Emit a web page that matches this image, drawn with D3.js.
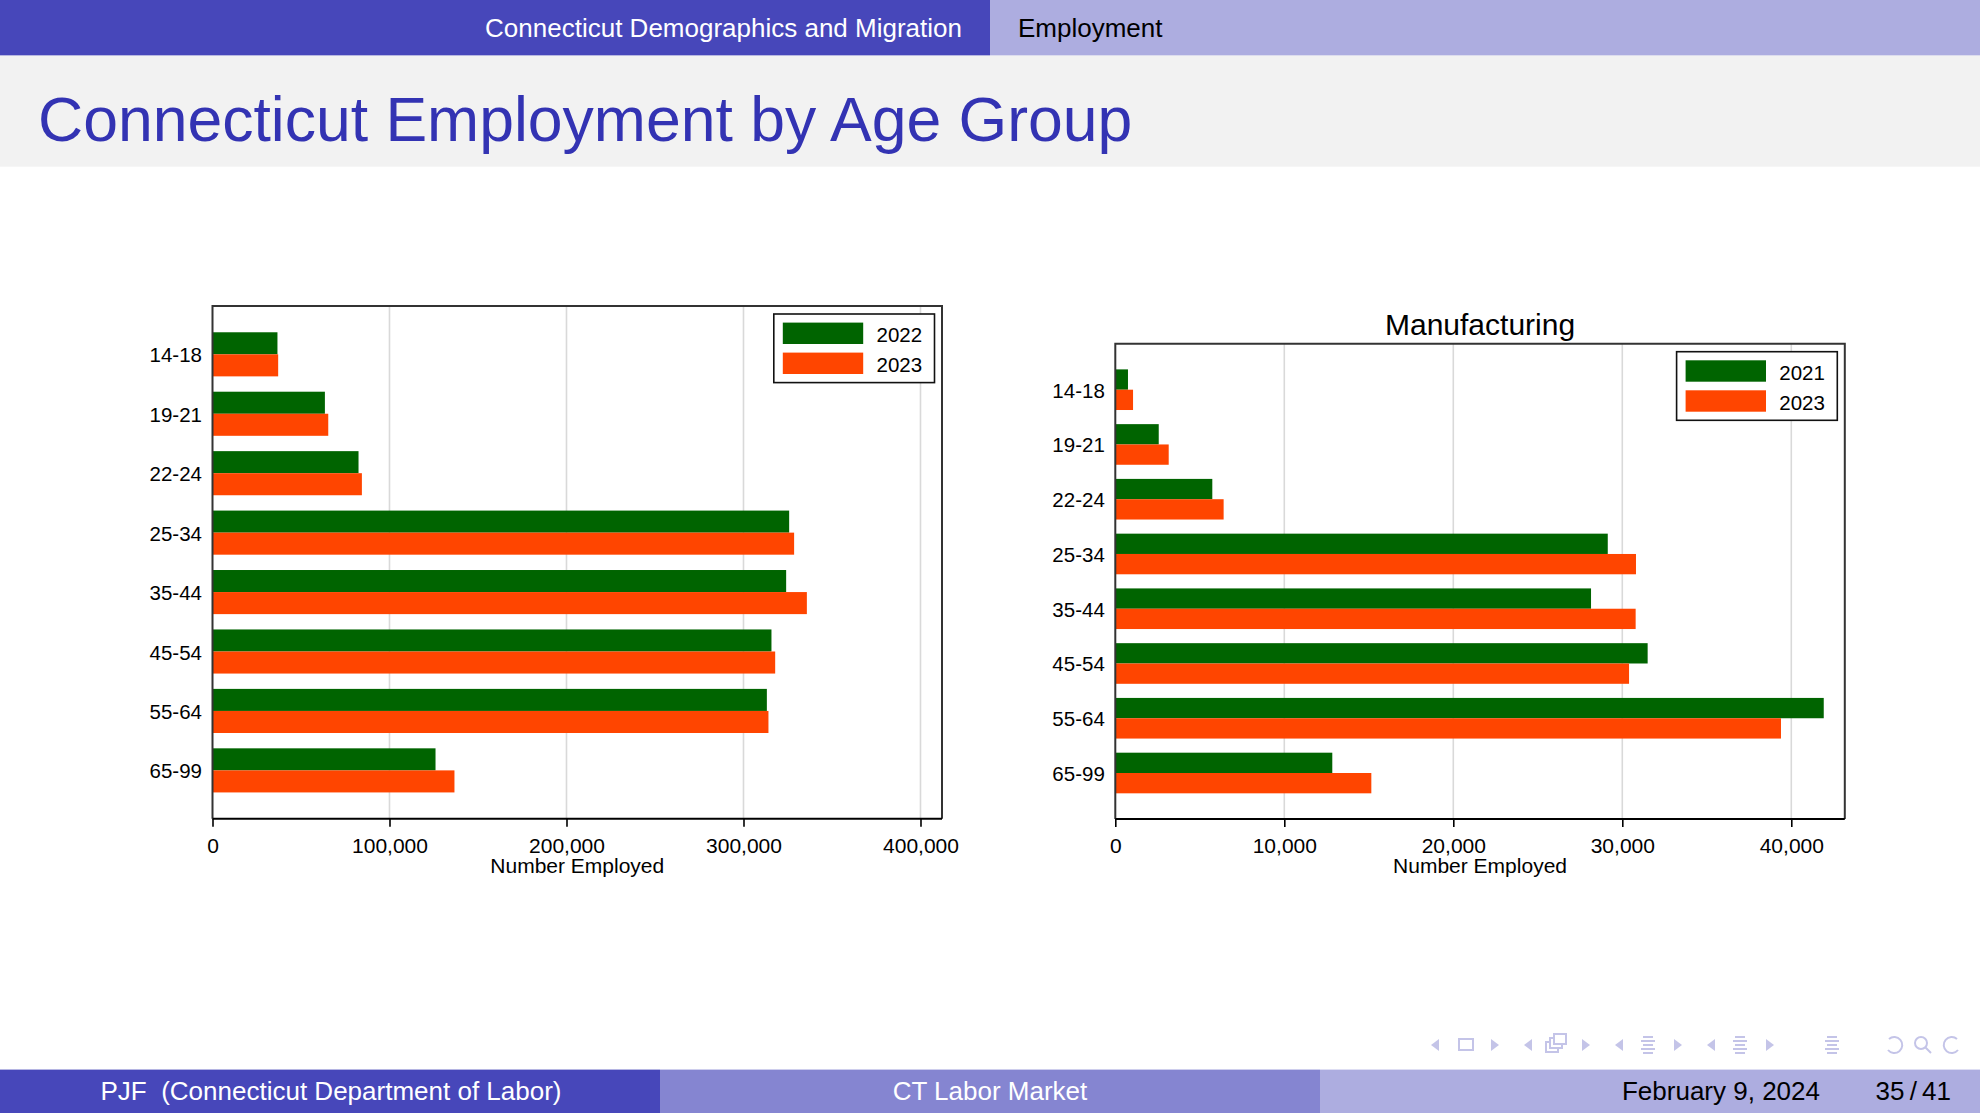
<!DOCTYPE html>
<html>
<head>
<meta charset="utf-8">
<script src="https://cdn.jsdelivr.net/npm/d3@7"></script>
<style>
  html, body { margin: 0; padding: 0; background: #ffffff; }
  svg { display: block; font-family: "Liberation Sans", Arial, Helvetica, sans-serif; }
  text { white-space: pre; }
</style>
</head>
<body>
<script>
// ---------------- DATA ----------------
const ageGroups = ["14-18", "19-21", "22-24", "25-34", "35-44", "45-54", "55-64", "65-99"];

// All industries (left panel)
const allSeriesNames = ["2022", "2023"];
const allEmp2022 = [36700, 63500, 82500, 325800, 324100, 315800, 313200, 126000];
const allEmp2023 = [37100, 65400, 84400, 328600, 335800, 317900, 314100, 136700];
const allTicks = [0, 100000, 200000, 300000, 400000];

// Manufacturing (right panel)
const mfgTitle = "Manufacturing";
const mfgSeriesNames = ["2021", "2023"];
const mfg2021 = [750, 2570, 5740, 29140, 28150, 31500, 41920, 12840];
const mfg2023 = [1050, 3160, 6410, 30810, 30790, 30400, 39390, 15150];
const mfgTicks = [0, 10000, 20000, 30000, 40000];

const xAxisLabel = "Number Employed";
const seriesColors = ["#006400", "#FF4500"];

// Slide texts
const headSection = "Connecticut Demographics and Migration";
const headSubsection = "Employment";
const slideTitle = "Connecticut Employment by Age Group";
const footAuthor = "PJF  (Connecticut Department of Labor)";
const footTitle = "CT Labor Market";
const footDate = "February 9, 2024";
const footPage = "35\u2009/\u200941";

// ---------------- LAYOUT ----------------
const W = 1980, H = 1113;
const FONT = '"Liberation Sans", Arial, Helvetica, sans-serif';
const C = {
  dark: "#4747BA", mid: "#8585D1", light: "#ADADE0",
  title: "#3333B3", titleBg: "#F2F2F2", nav: "#C4C4E8"
};

const svg = d3.select("body").append("svg")
  .attr("width", W).attr("height", H)
  .attr("viewBox", `0 0 ${W} ${H}`);

svg.append("rect").attr("width", W).attr("height", H).attr("fill", "#fff");

// Header
const headH = 55.6;
svg.append("rect").attr("x", 0).attr("y", 0).attr("width", W / 2).attr("height", headH).attr("fill", C.dark);
svg.append("rect").attr("x", W / 2).attr("y", 0).attr("width", W / 2).attr("height", headH).attr("fill", C.light);
svg.append("text").attr("x", 962).attr("y", 37).attr("text-anchor", "end")
  .attr("font-size", 26).attr("fill", "#fff").text(headSection);
svg.append("text").attr("x", 1018).attr("y", 37).attr("text-anchor", "start")
  .attr("font-size", 26).attr("fill", "#000").text(headSubsection);

// Title band
svg.append("rect").attr("x", 0).attr("y", headH).attr("width", W).attr("height", 166.7 - headH).attr("fill", C.titleBg);
svg.append("text").attr("x", 38).attr("y", 141).attr("font-size", 62.5).attr("fill", C.title).text(slideTitle);

// Footer
const footY = 1069.6, footH = H - footY;
[[0, C.dark], [660, C.mid], [1320, C.light]].forEach(([x, col]) => {
  svg.append("rect").attr("x", x).attr("y", footY).attr("width", 660).attr("height", footH).attr("fill", col);
});
svg.append("text").attr("x", 331).attr("y", 1100).attr("text-anchor", "middle").attr("font-size", 26).attr("fill", "#fff").text(footAuthor);
svg.append("text").attr("x", 990).attr("y", 1100).attr("text-anchor", "middle").attr("font-size", 26).attr("fill", "#fff").text(footTitle);
svg.append("text").attr("x", 1820).attr("y", 1100).attr("text-anchor", "end").attr("font-size", 26).attr("fill", "#000").text(footDate);
svg.append("text").attr("x", 1951).attr("y", 1100).attr("text-anchor", "end").attr("font-size", 26).attr("fill", "#000").text(footPage);

// Navigation symbols
const nav = svg.append("g").attr("fill", C.nav).attr("stroke", C.nav);
const ny = 1045;
function triL(x) { nav.append("path").attr("stroke", "none").attr("d", `M${x + 4},${ny - 6} L${x - 4},${ny} L${x + 4},${ny + 6} Z`); }
function triR(x) { nav.append("path").attr("stroke", "none").attr("d", `M${x - 4},${ny - 6} L${x + 4},${ny} L${x - 4},${ny + 6} Z`); }
function lines(x) {
  [-8, -4, 0, 4, 8].forEach((d, i) => nav.append("rect").attr("stroke", "none")
    .attr("x", x - (i % 2 ? 7 : 5)).attr("y", ny + d - 1).attr("width", i % 2 ? 14 : 10).attr("height", 2));
}
triL(1435);
nav.append("rect").attr("x", 1459).attr("y", ny - 6).attr("width", 14).attr("height", 11).attr("fill", "none").attr("stroke-width", 2);
triR(1495);
triL(1528);
nav.append("rect").attr("x", 1546).attr("y", ny - 3).attr("width", 12).attr("height", 10).attr("fill", "#fff").attr("stroke-width", 2);
nav.append("rect").attr("x", 1550).attr("y", ny - 7).attr("width", 12).attr("height", 10).attr("fill", "#fff").attr("stroke-width", 2);
nav.append("rect").attr("x", 1554).attr("y", ny - 11).attr("width", 12).attr("height", 10).attr("fill", "#fff").attr("stroke-width", 2);
triR(1586);
triL(1619); lines(1648); triR(1678);
triL(1711); lines(1740); triR(1770);
lines(1832);
nav.append("path").attr("fill", "none").attr("stroke-width", 2).attr("d", `M1889,${ny - 6} A8,8 0 1 1 1888,${ny + 5}`);
nav.append("circle").attr("cx", 1921).attr("cy", ny - 2).attr("r", 6).attr("fill", "none").attr("stroke-width", 2);
nav.append("line").attr("x1", 1925).attr("y1", ny + 2).attr("x2", 1931).attr("y2", ny + 8).attr("stroke-width", 2);
nav.append("path").attr("fill", "none").attr("stroke-width", 2).attr("d", `M1957,${ny - 6} A8,8 0 1 0 1958,${ny + 5}`);

// ---------------- CHARTS ----------------
function drawPanel(opts) {
  const { x0, x1, y0, y1, xMax, ticks, series, names, title } = opts;
  const g = svg.append("g");

  const x = d3.scaleLinear().domain([0, xMax]).range([x0, x1]);
  const y = d3.scaleBand().domain(ageGroups).range([y0, y1])
    .paddingInner(0.258).paddingOuter(opts.padOuter);
  const ySub = d3.scaleBand().domain(d3.range(series.length)).range([0, y.bandwidth()]);

  // gridlines
  g.append("g").selectAll("line").data(ticks.filter(t => t > 0)).join("line")
    .attr("x1", d => x(d)).attr("x2", d => x(d))
    .attr("y1", y0).attr("y2", y1)
    .attr("stroke", "#D9D9D9").attr("stroke-width", 1.6);

  // bars
  series.forEach((vals, si) => {
    g.append("g").selectAll("rect").data(ageGroups).join("rect")
      .attr("x", x(0))
      .attr("y", d => y(d) + ySub(si))
      .attr("width", (d, i) => x(vals[i]) - x(0))
      .attr("height", ySub.bandwidth())
      .attr("fill", seriesColors[si]);
  });

  // frame
  g.append("path").attr("fill", "none").attr("stroke", "#333").attr("stroke-width", 2)
    .attr("d", `M${x0},${y1} L${x0},${y0} L${x1},${y0} L${x1},${y1}`);

  // x axis
  const xAxis = d3.axisBottom(x).tickValues(ticks).tickSize(8).tickPadding(11)
    .tickFormat(d3.format(","));
  const ax = g.append("g").attr("transform", `translate(0,${y1})`).call(xAxis);
  ax.select(".domain").attr("stroke", "#000").attr("stroke-width", 2)
    .attr("d", `M${x0},0 H${x1}`);
  ax.selectAll(".tick line").attr("stroke", "#000").attr("stroke-width", 1.6);
  ax.selectAll(".tick text").attr("font-size", 21).attr("font-family", FONT).attr("fill", "#000");

  g.append("text").attr("x", (x0 + x1) / 2).attr("y", y1 + 54)
    .attr("text-anchor", "middle").attr("font-size", 21).attr("fill", "#000").text(xAxisLabel);

  // y axis
  const yAxis = d3.axisLeft(y).tickSize(0).tickPadding(10.5);
  const ay = g.append("g").attr("transform", `translate(${x0},0)`).call(yAxis);
  ay.select(".domain").remove();
  ay.selectAll(".tick text").attr("font-size", 20.5).attr("font-family", FONT)
    .attr("fill", "#000").attr("dy", "0.39em");

  // title
  if (title) {
    g.append("text").attr("x", (x0 + x1) / 2).attr("y", y0 - 9)
      .attr("text-anchor", "middle").attr("font-size", 30).attr("fill", "#000").text(title);
  }

  // legend
  const lw = 160.7, lh = 68.6;
  const lx = x1 - 7.5 - lw, ly = y0 + 8;
  const lg = g.append("g").attr("transform", `translate(${lx},${ly})`);
  lg.append("rect").attr("width", lw).attr("height", lh).attr("fill", "#fff")
    .attr("stroke", "#111").attr("stroke-width", 1.6);
  names.forEach((nm, i) => {
    lg.append("rect").attr("x", 9).attr("y", 8.6 + i * 30).attr("width", 80.4).attr("height", 21.4)
      .attr("fill", seriesColors[i]);
    lg.append("text").attr("x", 102.7).attr("y", 28 + i * 30)
      .attr("font-size", 20.5).attr("fill", "#000").text(nm);
  });
}

drawPanel({
  x0: 212.5, x1: 942, y0: 306, y1: 818.7,
  xMax: 412150, ticks: allTicks, padOuter: 0.442,
  series: [allEmp2022, allEmp2023], names: allSeriesNames, title: null
});

drawPanel({
  x0: 1115.3, x1: 1844.8, y0: 343.7, y1: 819,
  xMax: 43166, ticks: mfgTicks, padOuter: 0.469,
  series: [mfg2021, mfg2023], names: mfgSeriesNames, title: mfgTitle
});
</script>
</body>
</html>
